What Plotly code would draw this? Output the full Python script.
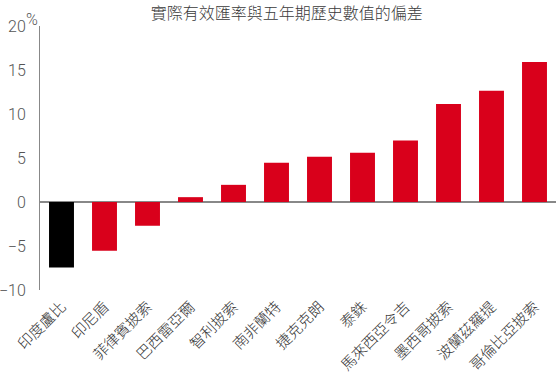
import plotly.graph_objects as go

categories = ["印度盧比", "印尼盾", "菲律賓披索", "巴西雷亞爾", "智利披索", "南非蘭特",
              "捷克克朗", "泰銖", "馬來西亞令吉", "墨西哥披索", "波蘭茲羅提", "哥倫比亞披索"]
values = [-7.45, -5.55, -2.7, 0.55, 1.95, 4.45, 5.15, 5.6, 7.0, 11.15, 12.65, 15.9]
bar_colors = ["#000000"] + ["#D9001B"] * 11
y_ticks = [-10, -5, 0, 5, 10, 15, 20]
title_text = "實際有效匯率與五年期歷史數值的偏差"

fig = go.Figure(go.Bar(x=categories, y=values, marker=dict(color=bar_colors, line=dict(width=0)),
                       width=0.58))

fig.update_layout(
    template="none",
    width=559, height=385,
    margin=dict(l=40, r=3, t=26, b=95, autoexpand=False),
    paper_bgcolor="white", plot_bgcolor="white",
    showlegend=False,
    font=dict(family="Noto Sans CJK TC, Noto Sans, sans-serif", color="#444444"),
    title=dict(text=title_text, x=0.513, xanchor="center", y=1 - 13 / 385, yanchor="middle",
               font=dict(size=16, color="#3a3a3a", weight=300)),
    xaxis=dict(showline=False, showgrid=False, zeroline=False, tickangle=-45, automargin=False,
               tickfont=dict(size=15, color="#333333", weight=300), ticks="",
               ticklabelstandoff=4, range=[-0.5, 11.5]),
    yaxis=dict(range=[-10, 20], tickvals=y_ticks, showgrid=False, automargin=False,
               zeroline=True, zerolinecolor="#888888", zerolinewidth=1.5,
               showline=True, linecolor="#888888", linewidth=1,
               ticks="", ticklabelstandoff=10,
               tickfont=dict(size=16, color="#555555", weight=300,
                             family="Roboto, Noto Sans, sans-serif")),
    annotations=[dict(text="%", xref="paper", yref="paper", x=0, y=1, xanchor="center",
                      yanchor="bottom", xshift=-8, yshift=-5, showarrow=False,
                      font=dict(size=16, color="#555555", weight=300,
                                family="Roboto, Noto Sans, sans-serif"))],
)

fig.write_html("out.html", config={"displayModeBar": False},
               post_script="document.body.style.margin='0';document.body.style.padding='0';")
